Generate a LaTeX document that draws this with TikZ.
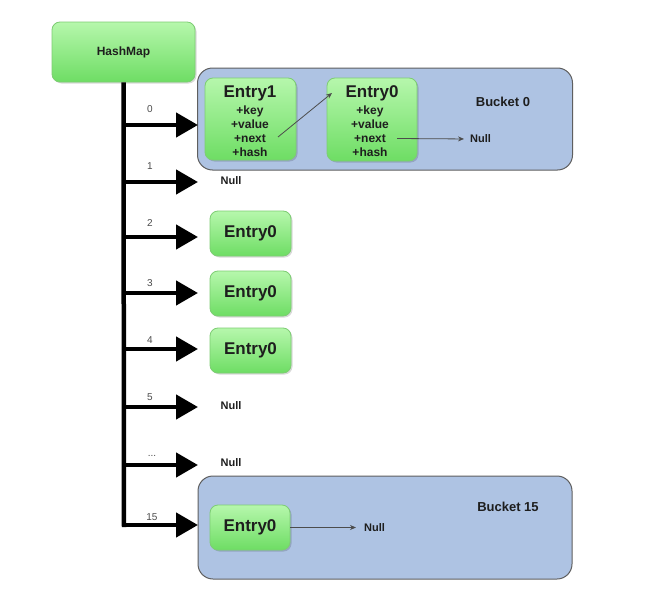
\documentclass[tikz,border=0pt]{standalone}
\usepackage{fontspec}
\setmainfont{Liberation Sans}
\usetikzlibrary{arrows.meta,shadows,calc}
\definecolor{gtop}{RGB}{182,247,172}
\definecolor{gbot}{RGB}{110,221,100}
\definecolor{gline}{RGB}{125,205,115}
\definecolor{bfill}{RGB}{174,195,227}
\definecolor{bline}{RGB}{95,95,95}
\definecolor{txt}{RGB}{30,30,30}
\begin{document}
\begin{tikzpicture}[x=1pt,y=-1pt,
  gbox/.style={draw=gline, line width=0.8pt, rounded corners=8pt, top color=gtop, bottom color=gbot,
    drop shadow={shadow xshift=1.5pt, shadow yshift=-1.5pt, fill=black, opacity=0.15}, inner sep=0pt},
  bucket/.style={draw=bline, line width=1pt, fill=bfill, rounded corners=15pt, inner sep=0pt},
  branch/.style={line width=4.5pt, -{Triangle[width=24pt,length=22pt]}},
  thinarrow/.style={draw=black!70, line width=0.8pt, -{Stealth[length=6pt,width=5pt]}},
  idx/.style={font=\fontsize{10}{12}\selectfont, text=black!70, inner sep=0pt},
  nulltxt/.style={font=\fontsize{11}{13}\selectfont\bfseries, text=txt, inner sep=0pt},
  title/.style={font=\fontsize{17}{19}\selectfont\bfseries, text=txt, inner sep=0pt},
  fields/.style={font=\fontsize{12}{14}\selectfont\bfseries, text=txt, align=center, inner sep=0pt},
  btxt/.style={font=\fontsize{13}{15}\selectfont\bfseries, text=txt, inner sep=0pt}
]
\fill[white] (0,0) rectangle (662,605);
\useasboundingbox (0,0) rectangle (662,605);

% buckets
\node[bucket, minimum width=375pt, minimum height=102pt] (b0) at (385,119) {};
\node[bucket, minimum width=374pt, minimum height=103pt] (b15) at (385,527.5) {};
\node[btxt] (b0t) at (503,102) {Bucket 0};
\node[btxt] (b15t) at (508,507) {Bucket 15};

% hashmap
\node[gbox, minimum width=143pt, minimum height=60pt, font=\fontsize{12}{14}\selectfont\bfseries, text=txt] (hm) at (123.5,52) {HashMap};

% entries in bucket 0
\node[gbox, minimum width=91pt, minimum height=82pt] (e1) at (250.5,119) {};
\node[title] (e1t) at (250,93) {Entry1};
\node[fields] (e1f) at (250,131) {+key\\+value\\+next\\+hash};
\node[gbox, minimum width=90pt, minimum height=83pt] (e0) at (372,119.5) {};
\node[title] (e0t) at (372,93) {Entry0};
\node[fields] (e0f) at (370,131) {+key\\+value\\+next\\+hash};

% other entries
\node[gbox, minimum width=81pt, minimum height=45pt, font=\fontsize{17}{19}\selectfont\bfseries, text=txt] (e2) at (250.5,233.5) {Entry0};
\node[gbox, minimum width=81pt, minimum height=45pt, font=\fontsize{17}{19}\selectfont\bfseries, text=txt] (e3) at (250.5,293.5) {Entry0};
\node[gbox, minimum width=81pt, minimum height=45pt, font=\fontsize{17}{19}\selectfont\bfseries, text=txt] (e4) at (250.5,350.5) {Entry0};
\node[gbox, minimum width=80pt, minimum height=45pt, font=\fontsize{17}{19}\selectfont\bfseries, text=txt] (e15) at (250,527.5) {Entry0};

% null labels
\node[nulltxt] (n1) at (231,181) {Null};
\node[nulltxt] (n5) at (231,406) {Null};
\node[nulltxt] (n6) at (231,463) {Null};
\node[nulltxt, anchor=west] (n0) at (470,139) {Null};
\node[nulltxt, anchor=west] (n15) at (364,527.5) {Null};

% trunk
\coordinate (tb) at (124,527);
\draw[line width=4.5pt] (hm.south) -- (tb);

% branches
\foreach \i/\y in {0/125,1/182,2/237,3/293,4/349,5/407,6/465,15/525}{
  \coordinate (t\i) at (124,\y);
  \coordinate (a\i) at (198,\y);
  \draw[branch] (t\i) -- (a\i);
}

% index labels
\node[idx] (l0) at (150,109) {0};
\node[idx] (l1) at (150,166) {1};
\node[idx] (l2) at (150,223) {2};
\node[idx] (l3) at (150,283) {3};
\node[idx] (l4) at (150,340) {4};
\node[idx] (l5) at (150,397) {5};
\node[idx] (l6) at (152,456) {...};
\node[idx] (l15) at (152,517) {15};

% thin arrows
\coordinate (e1n) at (278,137);
\coordinate (e0in) at (332,93);
\coordinate (e0n) at (397,138.5);
\draw[thinarrow] (e1n) -- (e0in);
\draw[thinarrow, shorten >=6pt] (e0n) -- (n0.west);
\draw[thinarrow, shorten >=8pt] (e15.east) -- (n15.west);
\end{tikzpicture}
\end{document}
